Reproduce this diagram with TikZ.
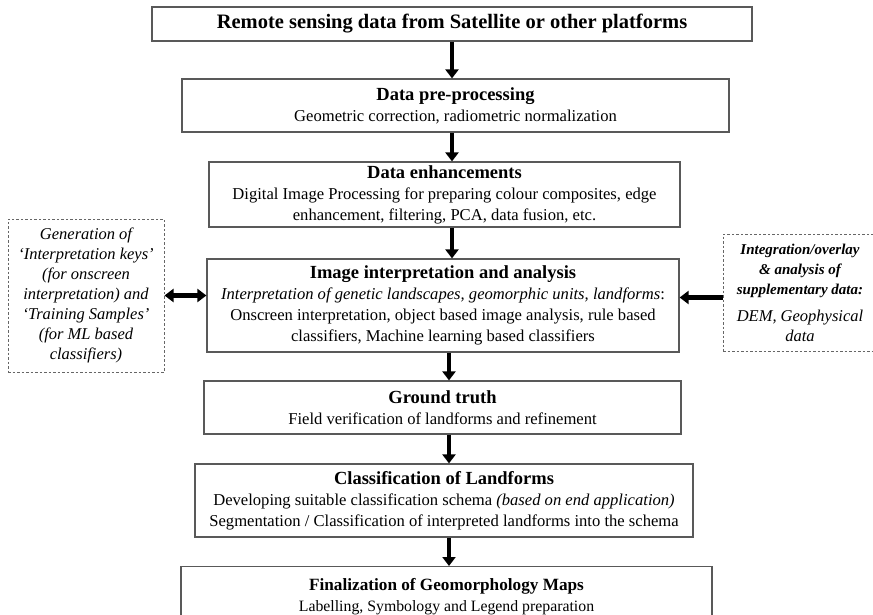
\documentclass[tikz,border=0pt]{standalone}
\usepackage{fontspec}
\setmainfont{Liberation Serif}
\usetikzlibrary{arrows.meta}
\newcommand{\boxhead}[1]{{\fontsize{18.5}{21}\selectfont\bfseries #1}}
\begin{document}
\begin{tikzpicture}[x=1pt,y=-1pt]
    \tikzstyle{stage box}=[draw=black!65, line width=1.2pt, align=center, inner sep=0pt, font=\fontsize{16.6}{21}\selectfont];
    \tikzstyle{side box}=[draw=black!60, line width=1pt, dash pattern=on 2.5pt off 2pt, align=center, inner sep=0pt, font=\fontsize{16.5}{20}\selectfont\itshape];
    \tikzstyle{flow}=[line width=4.5pt, -{Triangle[width=13pt,length=9pt]}];
    \tikzstyle{link}=[line width=4.5pt, {Triangle[width=13pt,length=9pt]}-{Triangle[width=13pt,length=9pt]}];

    \useasboundingbox (0,0) rectangle (873,615);

    % main chain
    \node[stage box, minimum width=600pt, minimum height=34pt, font=\fontsize{20.5}{22}\selectfont\bfseries] (b1) at (452,24) {Remote sensing data from Satellite or other platforms};
    \node[stage box, minimum width=547pt, minimum height=53pt] (b2) at (455.5,105.5) {\boxhead{Data pre-processing}\\Geometric correction, radiometric normalization};
    \node[stage box, minimum width=471pt, minimum height=65pt] (b3) at (444.5,194.5) {\boxhead{Data enhancements}\\Digital Image Processing for preparing colour composites, edge\\enhancement, filtering, PCA, data fusion, etc.};
    \node[stage box, minimum width=472pt, minimum height=93pt] (b4) at (443,305.5) {\boxhead{Image interpretation and analysis}\\\textit{Interpretation of genetic landscapes, geomorphic units, landforms}:\\Onscreen interpretation, object based image analysis, rule based\\classifiers, Machine learning based classifiers};
    \node[stage box, minimum width=477pt, minimum height=53pt] (b5) at (442.5,407.5) {\boxhead{Ground truth}\\Field verification of landforms and refinement};
    \node[stage box, minimum width=498pt, minimum height=73pt] (b6) at (444,500.5) {\boxhead{Classification of Landforms}\\Developing suitable classification schema \textit{(based on end application)}\\Segmentation / Classification of interpreted landforms into the schema};
    \node[stage box, minimum width=531pt, minimum height=60pt, anchor=north, font=\fontsize{15.8}{21}\selectfont] (b7) at (446.5,566) {{\fontsize{17.2}{21}\selectfont\bfseries Finalization of Geomorphology Maps}\\Labelling, Symbology and Legend preparation};

    % side inputs
    \node[side box, minimum width=156pt, minimum height=153pt] (keys) at (86,295.5) {Generation of\\`Interpretation keys'\\(for onscreen\\interpretation) and\\`Training Samples'\\(for ML based\\classifiers)};
    \node[side box, minimum width=154pt, minimum height=117pt] (supp) at (800,292.5) {\fontsize{15}{20}\selectfont\textbf{Integration/overlay}\\\fontsize{15}{20}\selectfont\textbf{\& analysis of}\\\fontsize{15}{20}\selectfont\textbf{supplementary data:}\\[7pt]DEM, Geophysical\\data};

    \draw[flow] (b1.south) -- (b1.south |- b2.north);
    \draw[flow] (b2.south -| b1) -- (b3.north -| b1);
    \draw[flow] (b3.south -| b1) -- (b4.north -| b1);
    \draw[flow] ([xshift=-3pt]b4.south -| b1) -- ([xshift=-3pt]b5.north -| b1);
    \draw[flow] ([xshift=-3pt]b5.south -| b1) -- ([xshift=-3pt]b6.north -| b1);
    \draw[flow] ([xshift=-3pt]b6.south -| b1) -- ([xshift=-3pt]b7.north -| b1);

    \draw[link] (keys.east) -- (keys.east -| b4.west);
    \draw[flow] ([yshift=-5pt]supp.west) -- ([yshift=-5pt]supp.west -| b4.east);
\end{tikzpicture}
\end{document}
